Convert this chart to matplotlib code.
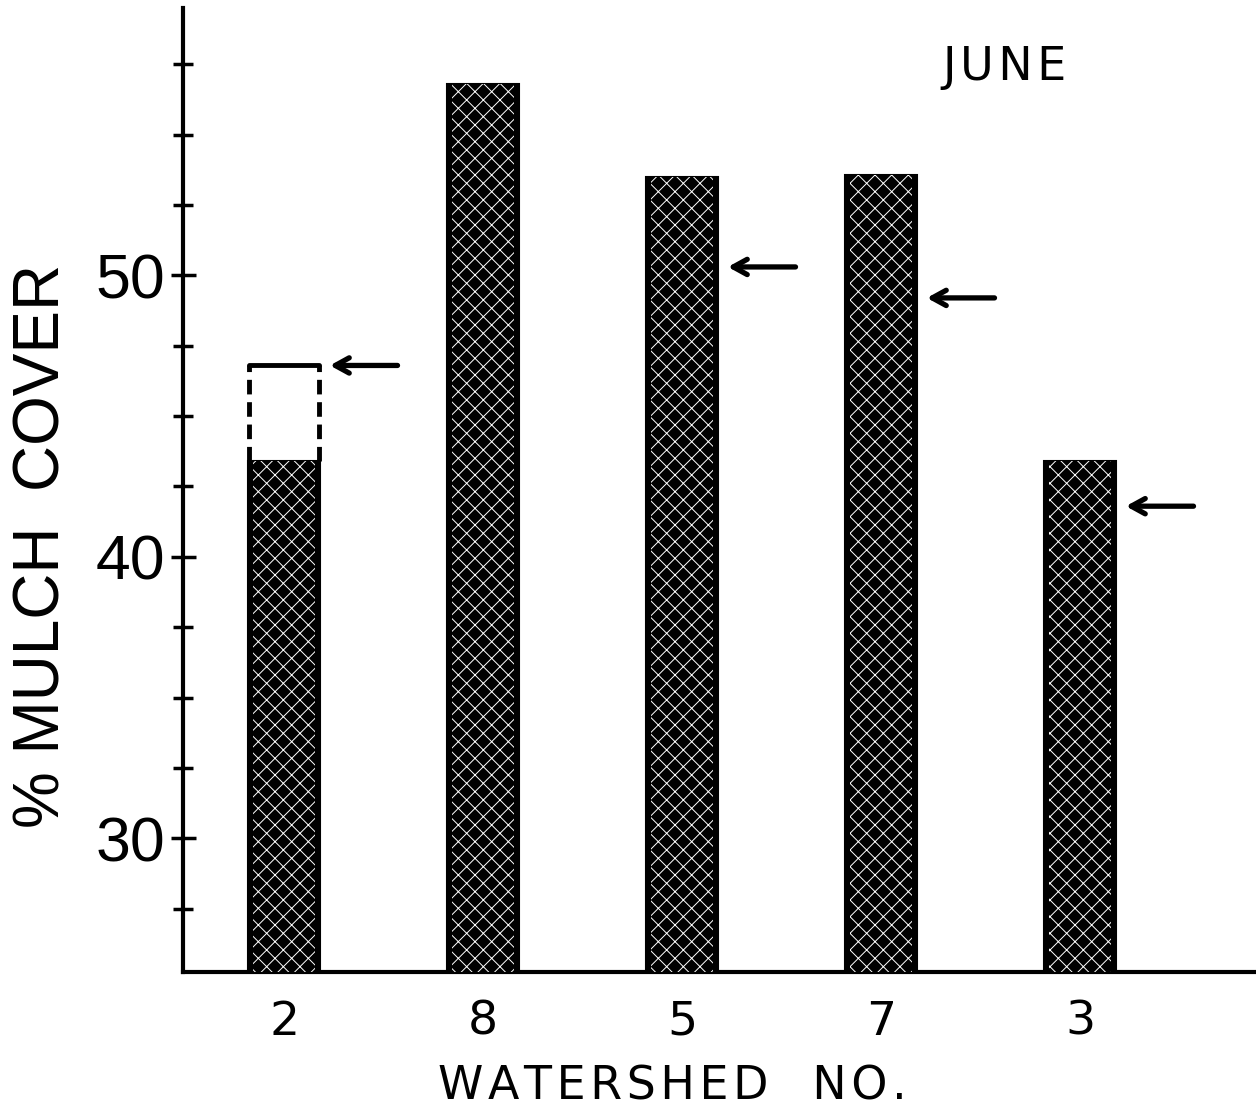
import matplotlib
matplotlib.use("Agg")
import matplotlib.pyplot as plt

# mulch cover by watershed, June
watersheds = ["2", "8", "5", "7", "3"]
mulch_cover = [43.4, 56.8, 53.5, 53.55, 43.4]
# watershed 2: extended (dashed) level
dashed_top = {0: 46.8}
# arrow markers, one per watershed (None = no arrow)
arrow_levels = [46.8, None, 50.3, 49.2, 41.8]

plt.rcParams["hatch.linewidth"] = 0.7

HS = "\u200a"  # hair space, used for letter spacing


def spaced(s):
    return HS.join(s)


fig = plt.figure(figsize=(12.56, 11.10), dpi=100)
ax = fig.add_axes([0.1457, 0.1243, 0.8543, 0.8685])

x = list(range(len(watersheds)))
ybase = 25.25
heights = [v - ybase for v in mulch_cover]
ax.bar(x, heights, bottom=ybase, width=0.36, color="black", edgecolor="black",
       linewidth=1.5, zorder=2)
ax.bar(x, heights, bottom=ybase, width=0.31, color="none", edgecolor="white",
       hatch="xx", linewidth=0, zorder=3)

# dashed extension of watershed 2
for i, top in dashed_top.items():
    lo = mulch_cover[i]
    half = 0.175
    ax.plot([x[i] - half, x[i] - half], [lo, top], color="black", lw=3.5,
            ls=(0, (3, 1.6)), solid_capstyle="round", zorder=4)
    ax.plot([x[i] + half, x[i] + half], [lo, top], color="black", lw=3.5,
            ls=(0, (3, 1.6)), solid_capstyle="round", zorder=4)
    ax.plot([x[i] - half, x[i] + half], [top, top], color="black", lw=3.5,
            solid_capstyle="round", zorder=4)

for xi, lev in zip(x, arrow_levels):
    if lev is None:
        continue
    ax.annotate("", xy=(xi + 0.23, lev), xytext=(xi + 0.57, lev),
                arrowprops=dict(arrowstyle="->,head_length=1.0,head_width=0.55",
                                lw=3.8, color="black", shrinkA=0, shrinkB=0))

ax.text(3.62, 57.4, spaced("JUNE"), fontsize=33, family="DejaVu Sans",
        ha="center", va="center")

ax.set_xlim(-0.508, 4.884)
ax.set_ylim(ybase, 59.5)

ax.spines["top"].set_visible(False)
ax.spines["right"].set_visible(False)
ax.spines["left"].set_linewidth(3)
ax.spines["bottom"].set_linewidth(3)

ax.set_yticks([30, 40, 50])
ax.set_yticks([27.5, 32.5, 35, 37.5, 42.5, 45, 47.5, 52.5, 55, 57.5], minor=True)
ax.tick_params(axis="y", which="both", direction="inout", length=14, width=2.5,
               labelsize=45, pad=4)
ax.tick_params(axis="y", which="major", length=18)
for lab in ax.get_yticklabels():
    lab.set_family("Liberation Sans")

ax.set_xticks(x)
ax.set_xticklabels(watersheds, fontsize=34, family="DejaVu Sans")
ax.tick_params(axis="x", length=0, pad=20)

ax.set_ylabel("% MULCH  COVER", fontsize=46, family="Liberation Sans")
ax.yaxis.set_label_coords(-0.103, 0.442)

fig.text(0.535, 0.021, spaced("WATERSHED") + "   " + spaced("NO."), fontsize=33,
         family="DejaVu Sans", ha="center", va="center")

fig.savefig("out.png", dpi=100)
